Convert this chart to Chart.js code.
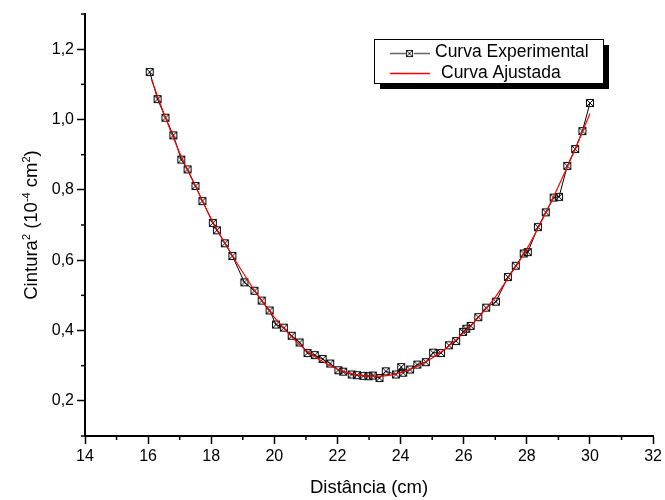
<!DOCTYPE html>
<html><head><meta charset="utf-8">
<script src="https://cdn.jsdelivr.net/npm/chart.js@4/dist/chart.umd.min.js"></script>
<style>html,body{margin:0;padding:0;background:#fff;}#wrap{width:665px;height:500px;position:relative;}</style>
</head><body><div id="wrap"><canvas id="c" width="665" height="500"></canvas></div>
<script>
// Experimental points
const distancia = [16.05,16.3,16.55,16.8,17.05,17.25,17.5,17.72,18.05,18.18,18.43,18.67,19.05,19.37,19.6,19.85,20.05,20.3,20.55,20.8,21.05,21.28,21.53,21.77,22.03,22.18,22.45,22.62,22.82,22.98,23.12,23.33,23.53,23.85,24.02,24.08,24.3,24.53,24.8,25.03,25.28,25.53,25.76,25.98,26.08,26.22,26.46,26.71,27.02,27.4,27.65,27.9,28.03,28.35,28.6,28.85,29.02,29.28,29.53,29.76,30.0];
const cintura2 = [1.135,1.058,1.005,0.955,0.886,0.858,0.811,0.768,0.706,0.685,0.648,0.612,0.537,0.513,0.485,0.457,0.417,0.408,0.385,0.366,0.336,0.330,0.319,0.306,0.287,0.283,0.275,0.273,0.271,0.270,0.272,0.265,0.284,0.275,0.296,0.280,0.289,0.303,0.310,0.337,0.336,0.358,0.370,0.396,0.405,0.413,0.438,0.465,0.482,0.552,0.584,0.619,0.623,0.694,0.736,0.778,0.780,0.868,0.916,0.967,1.047];
// Fitted curve
const ajusteX = [16.1,16.5,17,17.5,18,18.5,19,19.5,20,20.5,21,21.5,22,22.5,23,23.5,24,24.5,25,25.5,26,26.5,27,27.5,28,28.5,29,29.5,30];
const ajusteY = [1.115,1.017,0.905,0.81,0.717,0.638,0.565,0.497,0.437,0.386,0.344,0.313,0.29,0.276,0.27,0.271,0.28,0.297,0.322,0.354,0.394,0.441,0.495,0.562,0.632,0.717,0.81,0.91,1.017];
// Tick labels
const xTickLabels = ['14','16','18','20','22','24','26','28','30','32'];
const yTickLabels = ['0,2','0,4','0,6','0,8','1,0','1,2'];
const seriesNames = ['Curva Experimental','Curva Ajustada'];

const FONT = '"Liberation Sans", Arial, sans-serif';

const mk = document.createElement('canvas'); mk.width = 10; mk.height = 10;
(function(){
  const g = mk.getContext('2d');
  g.lineWidth = 1;
  g.strokeStyle = '#888';
  g.beginPath(); g.arc(5,5,3.8,0,Math.PI*2); g.stroke();
  g.strokeStyle = '#111';
  g.strokeRect(1.5,1.5,7,7);
  g.beginPath(); g.moveTo(1.5,1.5); g.lineTo(8.5,8.5); g.moveTo(8.5,1.5); g.lineTo(1.5,8.5); g.stroke();
})();

const minorTicks = {
  id: 'minorTicks',
  afterDraw(chart) {
    const ctx = chart.ctx, ca = chart.chartArea;
    ctx.save(); ctx.strokeStyle = '#000'; ctx.lineWidth = 1.5;
    const xs = chart.scales.x, ys = chart.scales.y;
    xs.ticks.forEach((t, i) => {
      if (Math.round(t.value) % 2 !== 0) {
        const p = xs.getPixelForTick(i);
        ctx.beginPath(); ctx.moveTo(p, ca.bottom); ctx.lineTo(p, ca.bottom + 4); ctx.stroke();
      }
    });
    ys.ticks.forEach((t, i) => {
      if (Math.round(t.value * 10) % 2 !== 0) {
        const p = ys.getPixelForTick(i);
        ctx.beginPath(); ctx.moveTo(ca.left, p); ctx.lineTo(ca.left - 4, p); ctx.stroke();
      }
    });
    ctx.restore();
  }
};

const yTitle = {
  id: 'yTitle',
  afterDraw(chart) {
    const ctx = chart.ctx, ca = chart.chartArea;
    const big = '18.5px ' + FONT, small = '11px ' + FONT;
    const parts = [['Cintura', big, 0], ['2', small, -7], [' (10', big, 0], ['-4', small, -7], [' cm', big, 0], ['2', small, -7], [')', big, 0]];
    ctx.save();
    let w = 0;
    parts.forEach(p => { ctx.font = p[1]; w += ctx.measureText(p[0]).width; });
    ctx.translate(30, (ca.top + ca.bottom) / 2);
    ctx.rotate(-Math.PI / 2);
    ctx.fillStyle = '#000'; ctx.textBaseline = 'alphabetic'; ctx.textAlign = 'left';
    let x = -w / 2;
    parts.forEach(p => { ctx.font = p[1]; ctx.fillText(p[0], x, 6.5 + p[2]); x += ctx.measureText(p[0]).width; });
    ctx.restore();
  }
};

const legendBox = {
  id: 'legendBox',
  afterDraw(chart) {
    const ctx = chart.ctx;
    const bx = 374, by = 39, bw = 229, bh = 44;
    ctx.save();
    ctx.fillStyle = '#000'; ctx.fillRect(bx + 6, by + 6, bw, bh);
    ctx.fillStyle = '#fff'; ctx.fillRect(bx, by, bw, bh);
    ctx.strokeStyle = '#000'; ctx.lineWidth = 1; ctx.strokeRect(bx + 0.5, by + 0.5, bw, bh);
    // entry 1
    ctx.lineWidth = 1.3;
    ctx.strokeStyle = '#666'; ctx.beginPath(); ctx.moveTo(390, 53.5); ctx.lineTo(430, 53.5); ctx.stroke();
    ctx.fillStyle = '#fff'; ctx.fillRect(406, 50, 8, 8);
    ctx.drawImage(mk, 405, 49, 9, 9);
    // entry 2
    ctx.strokeStyle = 'rgb(255,0,0)'; ctx.beginPath(); ctx.moveTo(390, 73.5); ctx.lineTo(430, 73.5); ctx.stroke();
    ctx.fillStyle = '#000'; ctx.font = '17.5px ' + FONT; ctx.textBaseline = 'middle'; ctx.textAlign = 'left';
    ctx.fillText(seriesNames[0], 435, 52);
    ctx.fillText(seriesNames[1], 441, 73);
    ctx.restore();
  }
};

new Chart(document.getElementById('c'), {
  type: 'scatter',
  data: {
    datasets: [
      {
        label: seriesNames[1],
        data: ajusteX.map((x, i) => ({x: x, y: ajusteY[i]})),
        showLine: true, borderColor: '#ff0000', borderWidth: 1.2, pointRadius: 0,
        cubicInterpolationMode: 'monotone', order: 0
      },
      {
        label: seriesNames[0],
        data: distancia.map((x, i) => ({x: x, y: cintura2[i]})),
        showLine: true, borderColor: '#000', borderWidth: 1,
        pointStyle: mk, pointRadius: 5, order: 1
      }
    ]
  },
  options: {
    responsive: false, animation: false, devicePixelRatio: 1,
    layout: {padding: {top: 14, right: 11, left: 0, bottom: 0}},
    plugins: {legend: {display: false}, tooltip: {enabled: false}},
    scales: {
      x: {
        type: 'linear', min: 14, max: 32,
        afterFit: s => { s.height = 64; },
        ticks: {
          stepSize: 1, autoSkip: false, maxRotation: 0, padding: 3,
          color: '#000', font: {family: FONT, size: 16},
          callback: v => (Math.round(v) % 2 === 0 ? xTickLabels[(Math.round(v) - 14) / 2] : '')
        },
        grid: {
          drawOnChartArea: false, drawTicks: true, tickLength: 8, tickWidth: 1.5,
          tickColor: c => (c.tick && Math.round(c.tick.value) % 2 === 0 ? '#000' : 'rgba(0,0,0,0)')
        },
        border: {display: true, color: '#000', width: 2},
        title: {display: true, text: 'Distância (cm)', color: '#000', font: {family: FONT, size: 18.5, lineHeight: 1}, padding: {top: 0, bottom: 3}}
      },
      y: {
        type: 'linear', min: 0.1, max: 1.3,
        afterFit: s => { s.width = 85; },
        ticks: {
          stepSize: 0.1, autoSkip: false, padding: 3,
          color: '#000', font: {family: FONT, size: 16},
          callback: v => { const k = Math.round(v * 10); return k % 2 === 0 ? yTickLabels[k / 2 - 1] : ''; }
        },
        grid: {
          drawOnChartArea: false, drawTicks: true, tickLength: 8, tickWidth: 1.5,
          tickColor: c => (c.tick && Math.round(c.tick.value * 10) % 2 === 0 ? '#000' : 'rgba(0,0,0,0)')
        },
        border: {display: true, color: '#000', width: 2},
        title: {display: false}
      }
    }
  },
  plugins: [minorTicks, yTitle, legendBox]
});
</script>
</body></html>
